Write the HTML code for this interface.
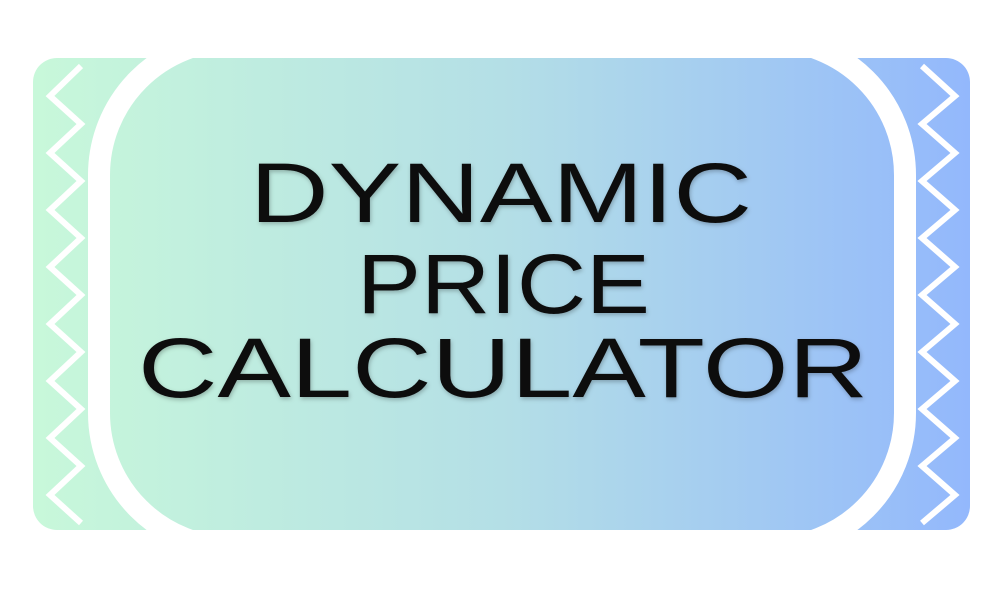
<!DOCTYPE html>
<html><head><meta charset="utf-8"><style>
html,body{margin:0;padding:0;background:#fff;}
svg{display:block;}
</style></head><body>
<svg width="1004" height="590" viewBox="0 0 1004 590">
<defs>
<linearGradient id="g" x1="33" y1="0" x2="970" y2="0" gradientUnits="userSpaceOnUse">
<stop offset="0" stop-color="#c8f8da"/><stop offset="0.5" stop-color="#b4dfe6"/><stop offset="1" stop-color="#93b8fc"/>
</linearGradient>
<clipPath id="c"><rect x="33" y="58" width="937" height="472" rx="24"/></clipPath>
<filter id="sh" x="-10%" y="-10%" width="120%" height="130%"><feDropShadow dx="1" dy="2" stdDeviation="2" flood-color="#000" flood-opacity="0.25"/></filter>
</defs>
<rect x="33" y="58" width="937" height="472" rx="24" fill="url(#g)"/>
<g clip-path="url(#c)">
<rect x="99" y="40" width="806" height="508" rx="135" fill="none" stroke="#fff" stroke-width="22"/>
</g>
<polyline fill="none" stroke="#fff" stroke-width="6" points="81,66 50,96 81,124 50,153 81,181 50,210 81,238 50,267 81,295 50,324 81,352 50,381 81,409 50,438 81,466 50,495 81,523"/>
<polyline fill="none" stroke="#fff" stroke-width="6" points="922,66 955,96 922,124 955,153 922,181 955,210 922,238 955,267 922,295 955,324 922,352 955,381 922,409 955,438 922,466 955,495 922,523"/>
<g font-family="'Liberation Sans', sans-serif" font-size="84" fill="#0a0a0a" filter="url(#sh)">
<text x="250" y="222" textLength="502" lengthAdjust="spacingAndGlyphs">DYNAMIC</text>
<text x="357" y="313" textLength="293" lengthAdjust="spacingAndGlyphs">PRICE</text>
<text x="138" y="397" textLength="730" lengthAdjust="spacingAndGlyphs">CALCULATOR</text>
</g>
</svg>
</body></html>
